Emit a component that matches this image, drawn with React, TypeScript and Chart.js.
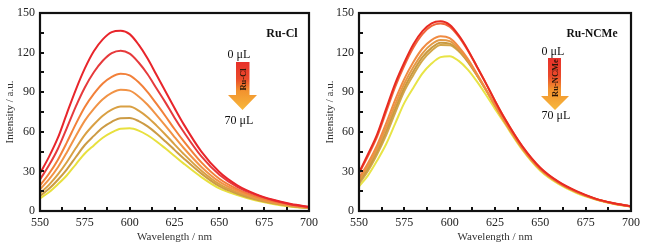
import React, { useEffect, useRef } from "react";
import { Chart, registerables } from "chart.js";
Chart.register(...registerables);

// ---------- data ----------
const wavelengths = [550, 555, 560, 565, 570, 575, 580, 585, 590, 595, 600, 605, 610, 615, 620, 625, 630, 640, 650, 660, 670, 680, 690, 700];

const ruCl0 = [28.5, 41, 55.5, 74, 92, 108, 121, 130, 135.5, 136.5, 134, 126, 115.5, 103, 90.5, 78, 66, 45, 29.5, 19.5, 13, 8.5, 5.3, 3.2];
const ruCl10 = [23.9, 34.6, 47.2, 63, 79.3, 93.6, 105.1, 113.8, 119.6, 121.4, 119.2, 112.5, 103.6, 92.8, 82.1, 70.7, 60.2, 41.3, 27.4, 18.3, 12.4, 8.1, 5, 3];
const ruCl20 = [19.3, 28.2, 38.9, 52, 66, 78.8, 88.7, 96.6, 101.7, 104, 102.8, 97.5, 90.1, 81.1, 71.8, 62.1, 53.1, 36.8, 24.4, 16.6, 11.2, 7.3, 4.6, 2.8];
const ruCl30 = [16.4, 24, 33.2, 44.6, 56.9, 68.5, 77.4, 84.7, 89.5, 91.9, 91.2, 86.8, 80.5, 72.7, 64.5, 56, 47.9, 33.4, 22.2, 15.3, 10.4, 6.7, 4.2, 2.6];
const ruCl40 = [13.4, 19.8, 27.7, 37.1, 47.7, 57.7, 65.5, 72.2, 76.8, 79.2, 79.1, 76.1, 71.1, 64.7, 57.8, 50.5, 43.4, 30.5, 20.3, 14.1, 9.5, 6.2, 3.9, 2.3];
const ruCl50 = [11.4, 16.8, 23.7, 31.6, 40.9, 50, 56.9, 63.3, 67.6, 70.3, 70.4, 68.1, 64.1, 58.7, 52.6, 46.3, 40, 28.3, 18.8, 13.1, 8.8, 5.8, 3.6, 2.2];
const ruCl70 = [9.5, 14.2, 20.3, 27.1, 35.4, 43.6, 49.7, 55.5, 59.6, 62.3, 62.6, 60.9, 57.4, 52.7, 47.3, 41.7, 36.1, 25.7, 17.1, 12.1, 8.1, 5.3, 3.3, 2];

const ruN0 = [29, 43.2, 58.1, 77.5, 96.7, 112.5, 126.3, 136.2, 142.2, 143.7, 141, 133, 122.2, 109.5, 96.7, 83.4, 70.8, 49.2, 32.8, 22.2, 15, 9.6, 6, 3.5];
const ruN10 = [28.5, 41.8, 56.3, 75.3, 94.3, 110.2, 123.8, 134, 140.2, 142.1, 139.7, 132.1, 121.6, 109.3, 96.7, 83.4, 71, 48.9, 32.4, 21.9, 14.7, 9.4, 5.8, 3.4];
const ruN20 = [25, 36.4, 49.9, 66.6, 84.4, 100.1, 112.9, 123.1, 129.5, 132.3, 130.9, 124.4, 115.3, 104, 92.3, 80.1, 68.5, 47.5, 31.4, 21.2, 14.3, 9.2, 5.7, 3.4];
const ruN30 = [23.5, 34.3, 47.4, 63.4, 80.7, 96.6, 109.1, 119.5, 126.3, 129.5, 128.7, 122.8, 114.2, 103.3, 91.9, 79.9, 68.4, 47.7, 31.6, 21.5, 14.4, 9.3, 5.8, 3.4];
const ruN40 = [22, 32.3, 45.1, 60.4, 77.5, 93.5, 105.9, 116.5, 123.6, 127.4, 126.8, 121.7, 113.3, 102.9, 91.7, 80, 68.7, 48, 31.8, 21.6, 14.5, 9.3, 5.8, 3.4];
const ruN50 = [20.6, 30.5, 43, 57.5, 74.5, 90.9, 103.1, 114, 121.4, 125.7, 125.6, 121, 113, 102.9, 91.8, 80.2, 69, 48.3, 32, 21.7, 14.5, 9.3, 5.8, 3.4];
const ruN70 = [18.5, 27, 38.2, 50.8, 66.4, 81.9, 93.4, 104.2, 111.7, 116.6, 117.3, 113.7, 107.1, 98.2, 88.1, 77.4, 67, 46.5, 30.5, 20.5, 13.6, 8.9, 5.5, 3.2];

const leftSeries = [ruCl0, ruCl10, ruCl20, ruCl30, ruCl40, ruCl50, ruCl70];
const rightSeries = [ruN0, ruN10, ruN20, ruN30, ruN40, ruN50, ruN70];
const leftColors = ["#e8252b", "#e63a3c", "#f2803a", "#f19346", "#d9a043", "#cc9b44", "#e8e03e"];
const rightColors = ["#e82a22", "#f0663a", "#f08b42", "#e39a45", "#c99a40", "#d3a64a", "#e8e446"];

const xMajorTicks = [550, 575, 600, 625, 650, 675, 700];
const xMinorTicks = [562.5, 587.5, 612.5, 637.5, 662.5, 687.5];
const yMajorTicks = [0, 30, 60, 90, 120, 150];
const yMinorTicks = [15, 45, 75, 105, 135];

const SERIF = "'Liberation Serif', 'Times New Roman', serif";

const framePlugin = {
  id: "frame",
  afterDraw(chart: any) {
    const { ctx, chartArea: a, scales } = chart;
    ctx.save();
    ctx.strokeStyle = "#111";
    ctx.lineWidth = 2;
    ctx.beginPath();
    [...xMajorTicks, ...xMinorTicks].forEach((v) => {
      const x = Math.round(scales.x.getPixelForValue(v));
      ctx.moveTo(x, a.bottom);
      ctx.lineTo(x, a.bottom - 4);
    });
    [...yMajorTicks, ...yMinorTicks].forEach((v) => {
      const y = Math.round(scales.y.getPixelForValue(v));
      ctx.moveTo(a.left, y);
      ctx.lineTo(a.left + 4, y);
    });
    ctx.stroke();
    ctx.lineWidth = 2.2;
    ctx.strokeRect(a.left, a.top, a.right - a.left, a.bottom - a.top);
    ctx.restore();
  },
};

function Panel(props: { left: number; width: number; yWidth: number; padRight: number; series: number[][]; colors: string[] }) {
  const ref = useRef<HTMLCanvasElement>(null);
  useEffect(() => {
    const chart = new Chart(ref.current as HTMLCanvasElement, {
      type: "line",
      data: {
        datasets: props.series.map((s, i) => ({
          data: wavelengths.map((x, j) => ({ x, y: s[j] })),
          borderColor: props.colors[i],
          borderWidth: 2,
          pointRadius: 0,
          fill: false,
          cubicInterpolationMode: "monotone" as const,
        })),
      },
      options: {
        animation: false,
        responsive: false,
        maintainAspectRatio: false,
        layout: { padding: { left: 0, right: props.padRight, top: 13, bottom: 0 } },
        plugins: { legend: { display: false }, tooltip: { enabled: false } },
        scales: {
          x: {
            type: "linear",
            min: 550,
            max: 700,
            afterBuildTicks: (scale: any) => {
              scale.ticks = xMajorTicks.map((v) => ({ value: v }));
            },
            afterFit: (scale: any) => {
              scale.height = 37;
            },
            grid: { display: false, drawTicks: false },
            border: { display: false },
            ticks: { color: "#222", font: { family: SERIF, size: 12 }, padding: 5, maxRotation: 0, autoSkip: false },
            title: { display: true, text: "Wavelength / nm", color: "#333", font: { family: SERIF, size: 11 }, padding: { top: 0, bottom: 4.4 } },
          },
          y: {
            type: "linear",
            min: 0,
            max: 150,
            afterBuildTicks: (scale: any) => {
              scale.ticks = yMajorTicks.map((v) => ({ value: v }));
            },
            afterFit: (scale: any) => {
              scale.width = props.yWidth;
            },
            grid: { display: false, drawTicks: false },
            border: { display: false },
            ticks: { color: "#222", font: { family: SERIF, size: 12 }, padding: 5 },
            title: { display: true, text: "Intensity / a.u.", color: "#333", font: { family: SERIF, size: 11 }, padding: { top: 3.4, bottom: 0 } },
          },
        },
      },
      plugins: [framePlugin],
    } as any);
    return () => chart.destroy();
  }, []);
  return (
    <canvas
      ref={ref}
      width={props.width}
      height={248}
      style={{ position: "absolute", left: props.left, top: 0, width: props.width, height: 248 }}
    />
  );
}

function Arrow(p: { id: string; sx0: number; sx1: number; sy0: number; hy: number; hx0: number; hx1: number; ty: number; label: string; fs: number }) {
  const cx = (p.hx0 + p.hx1) / 2;
  const pts = `${p.sx0},${p.sy0} ${p.sx1},${p.sy0} ${p.sx1},${p.hy} ${p.hx1},${p.hy} ${cx},${p.ty} ${p.hx0},${p.hy} ${p.sx0},${p.hy}`;
  const tcx = (p.sx0 + p.sx1) / 2;
  const tcy = (p.sy0 + p.hy) / 2 + 1;
  return (
    <g>
      <defs>
        <linearGradient id={p.id} x1="0" y1={p.sy0} x2="0" y2={p.ty} gradientUnits="userSpaceOnUse">
          <stop offset="0" stopColor="#e8302a" />
          <stop offset="0.35" stopColor="#ea4a2a" />
          <stop offset="0.6" stopColor="#f2922e" />
          <stop offset="1" stopColor="#f7b83c" />
        </linearGradient>
      </defs>
      <polygon points={pts} fill={`url(#${p.id})`} />
      <text
        x={tcx}
        y={tcy}
        fontFamily={SERIF}
        fontWeight="bold"
        fontSize={p.fs}
        fill="#2a1608"
        textAnchor="middle"
        dominantBaseline="central"
        transform={`rotate(-90 ${tcx} ${tcy})`}
      >
        {p.label}
      </text>
    </g>
  );
}

export default function App() {
  return (
    <div style={{ position: "absolute", left: 0, top: 0, width: 646, height: 248, background: "#fff", overflow: "hidden" }}>
      <Panel left={0} width={323} yWidth={40} padRight={13} series={leftSeries} colors={leftColors} />
      <Panel left={320} width={326} yWidth={39} padRight={15} series={rightSeries} colors={rightColors} />
      <svg width={646} height={248} style={{ position: "absolute", left: 0, top: 0 }}>
        <text x={282} y={32.5} fontFamily={SERIF} fontWeight="bold" fontSize={12} fill="#111" textAnchor="middle" dominantBaseline="central">Ru-Cl</text>
        <text x={239} y={54} fontFamily={SERIF} fontSize={12} fill="#111" textAnchor="middle" dominantBaseline="central">0 μL</text>
        <Arrow id="gl" sx0={236} sx1={249.5} sy0={62} hy={95} hx0={228} hx1={257} ty={110} label="Ru-Cl" fs={8.5} />
        <text x={239} y={119.5} fontFamily={SERIF} fontSize={12} fill="#111" textAnchor="middle" dominantBaseline="central">70 μL</text>

        <text x={592} y={32.5} fontFamily={SERIF} fontWeight="bold" fontSize={11.5} fill="#111" textAnchor="middle" dominantBaseline="central">Ru-NCMe</text>
        <text x={553} y={50.5} fontFamily={SERIF} fontSize={12} fill="#111" textAnchor="middle" dominantBaseline="central">0 μL</text>
        <Arrow id="gr" sx0={548} sx1={561} sy0={58} hy={96} hx0={541} hx1={569} ty={110} label="Ru-NCMe" fs={8.5} />
        <text x={556} y={114.5} fontFamily={SERIF} fontSize={12} fill="#111" textAnchor="middle" dominantBaseline="central">70 μL</text>
      </svg>
    </div>
  );
}
